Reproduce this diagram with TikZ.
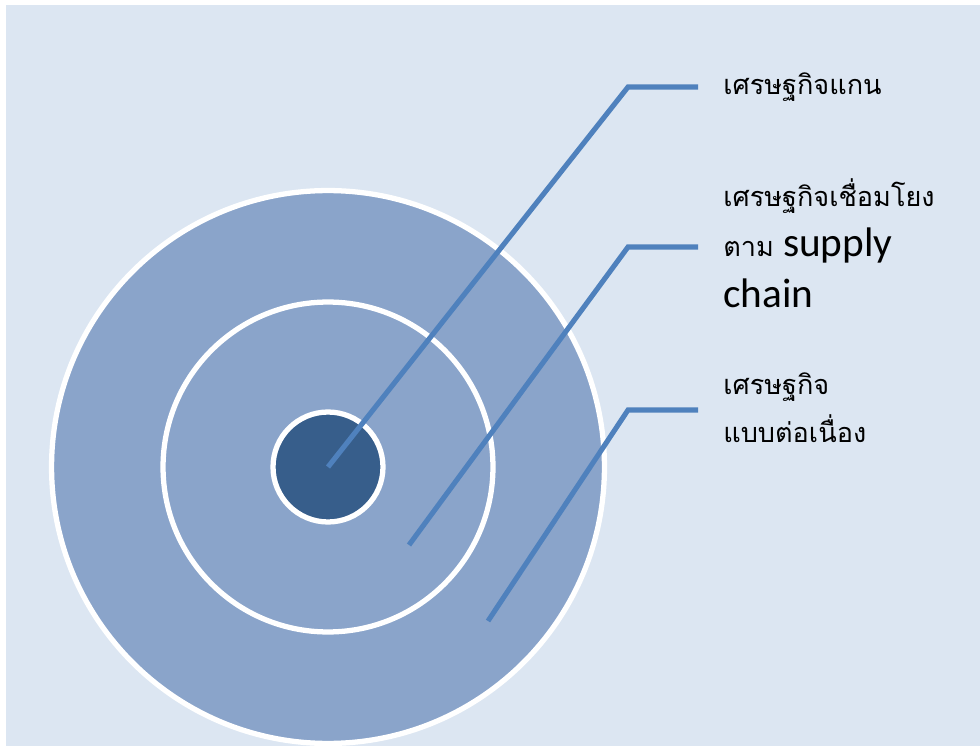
\documentclass[tikz,border=0pt]{standalone}
\usepackage{fontspec}
\setmainfont{Carlito}
\newfontfamily\thaifont[Script=Thai]{Loma}
\usetikzlibrary{positioning}

\definecolor{pagebg}{HTML}{DCE6F2}
\definecolor{ringfill}{HTML}{8AA4CA}
\definecolor{corefill}{HTML}{375E8B}
\definecolor{leader}{HTML}{4F81BD}

\begin{document}
\begin{tikzpicture}[x=0.02cm, y=-0.02cm]
	\tikzset{ring/.style={circle, draw=white, line width=3pt, inner sep=0pt, outer sep=0pt}};
	\tikzset{thai/.style={anchor=base west, inner sep=0pt, font=\thaifont\fontsize{15.4}{19}\selectfont}};
	\tikzset{latin/.style={anchor=base west, inner sep=0pt, font=\fontsize{23.5}{28}\selectfont}};
	\tikzset{leaderline/.style={draw=leader, line width=2.9pt}};
	% Place background
	\useasboundingbox (0,0) rectangle (980,746);
	\fill[white] (0,0) rectangle (980,746);
	\fill[pagebg] (6,5) rectangle (980,746);
	% Place circles
	\node [ring, fill=ringfill, minimum size=11.06cm] (outer) at (328,467) {};
	\node [ring, fill=ringfill, minimum size=6.6cm] (middle) at (328,467) {};
	\node [ring, fill=corefill, minimum size=2.2cm] (core) at (328,467) {};
	% Place labels
	\node [thai] (lblcore) at (723,95) {เศรษฐกิจแกน};
	\node [thai] (lbllinkA) at (723,207) {เศรษฐกิจเชื่อมโยง};
	\node [thai] (lbllinkB) at (723,257) {ตาม {\fontspec{Carlito}\fontsize{23.5}{28}\selectfont supply}};
	\node [latin] (lbllinkC) at (723,308) {chain};
	\node [thai] (lblcontA) at (723,395) {เศรษฐกิจ};
	\node [thai] (lblcontB) at (723,442) {แบบต่อเนื่อง};
	% Place leader lines
	\coordinate (pmid) at (409,545);
	\coordinate (pout) at (488,621);
	\coordinate (kcore) at (628,87);
	\coordinate (klink) at (628,247);
	\coordinate (kcont) at (628,410);
	\coordinate (ecore) at (698,87);
	\coordinate (elink) at (698,247);
	\coordinate (econt) at (698,410);
	\draw [leaderline] (core.center) -- (kcore) -- (ecore);
	\draw [leaderline] (pmid) -- (klink) -- (elink);
	\draw [leaderline] (pout) -- (kcont) -- (econt);
\end{tikzpicture}
\end{document}
